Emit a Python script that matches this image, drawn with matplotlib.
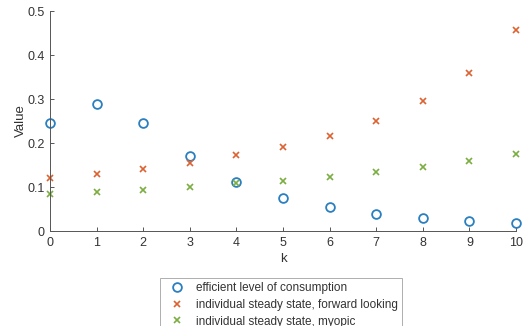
import numpy as np
import matplotlib.pyplot as plt

plt.rcParams['font.family'] = ['Liberation Sans', 'DejaVu Sans']

# data
k = np.arange(0, 11)
efficient = [0.246, 0.289, 0.246, 0.170, 0.112, 0.076, 0.054, 0.039, 0.029, 0.023, 0.018]
forward = [0.121, 0.130, 0.142, 0.155, 0.172, 0.192, 0.217, 0.249, 0.295, 0.358, 0.456]
myopic = [0.085, 0.089, 0.094, 0.101, 0.108, 0.114, 0.123, 0.133, 0.145, 0.158, 0.175]

W, H = 524, 326
fig = plt.figure(figsize=(W / 100, H / 100), dpi=100)
ax = fig.add_axes([50 / W, 1 - 231 / H, (516 - 50) / W, (231 - 11) / H])

axcol = '#555555'
txtcol = '#333333'
ax.plot(k, efficient, 'o', color='none', markeredgecolor='#2a7fc0', markersize=6.3,
        markeredgewidth=1.3, label='efficient level of consumption', clip_on=False)
ax.plot(k, forward, 'x', color='#dc6232', markersize=4.5, markeredgewidth=1.2,
        label='individual steady state, forward looking', clip_on=False)
ax.plot(k, myopic, 'x', color='#7aae40', markersize=4.5, markeredgewidth=1.2,
        label='individual steady state, myopic', clip_on=False)

ax.set_xlim(0, 10)
ax.set_ylim(0, 0.5)
ax.set_xticks(range(0, 11))
ax.set_yticks([0, 0.1, 0.2, 0.3, 0.4, 0.5])
ax.set_yticklabels(['0', '0.1', '0.2', '0.3', '0.4', '0.5'])
for s in ['top', 'right']:
    ax.spines[s].set_visible(False)
for s in ['left', 'bottom']:
    ax.spines[s].set_color(axcol)
    ax.spines[s].set_linewidth(0.7)
ax.tick_params(direction='in', length=3, width=0.7, colors=axcol, labelcolor=txtcol,
               labelsize=9, pad=4)
ax.set_xlabel('k', fontsize=9.5, color=txtcol, labelpad=3)
ax.set_ylabel('Value', fontsize=9.5, color=txtcol, labelpad=0)

leg = fig.legend(loc='upper left', bbox_to_anchor=(160 / W, 1 - 278 / H), fontsize=8.5,
                 frameon=True, fancybox=False, edgecolor='#999999', borderaxespad=0,
                 handlelength=2.25, handletextpad=0.45, labelspacing=0.4,
                 borderpad=0.35)
leg.get_frame().set_linewidth(0.7)
for t in leg.get_texts():
    t.set_color(txtcol)

fig.savefig('out.png', dpi=100)
